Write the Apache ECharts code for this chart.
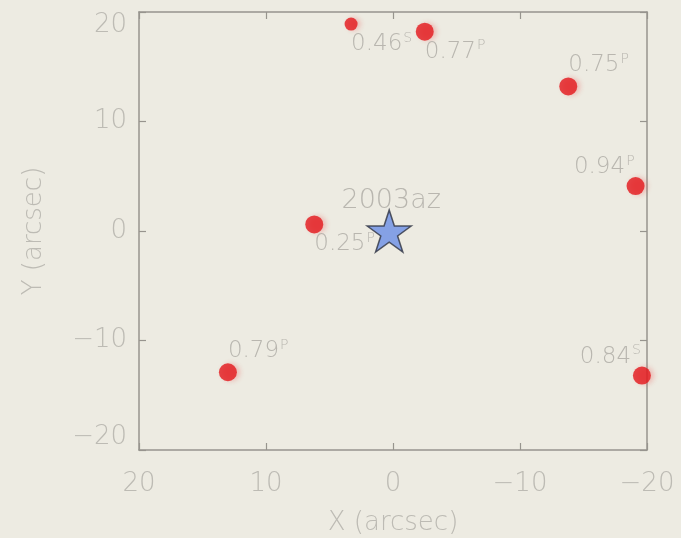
<!DOCTYPE html>
<html>
<head>
<meta charset="utf-8">
<style>
  html, body { margin: 0; padding: 0; background: #edebe2; }
  #chart { width: 681px; height: 538px; }
</style>
<script src="https://cdn.jsdelivr.net/npm/echarts@6/dist/echarts.min.js"></script>
</head>
<body>
<div id="chart"></div>
<script>
// Neighbouring galaxies around SN 2003az: offsets in arcsec, redshift and type tag
const galaxyZ     = ['0.46', '0.77', '0.75', '0.94', '0.25', '0.79', '0.84'];
const galaxyTag   = ['S', 'P', 'P', 'P', 'P', 'P', 'S'];
const galaxyX     = [3.3, -2.5, -13.8, -19.1, 6.2, 13.0, -19.6];
const galaxyY     = [18.9, 18.2, 13.2, 4.1, 0.6, -12.9, -13.2];
const galaxySmall = [true, false, false, false, false, false, false];

// Supernova position
const snName = '2003az';
const snX = [0.3];
const snY = [0.0];

// Axis ticks
const axisMin = -20, axisMax = 20, axisStep = 10;

// Where each redshift label sits relative to its dot
const labelSide = ['below', 'below', 'above', 'aboveLeft', 'below', 'above', 'aboveLeft'];

const FONT = '"DejaVu Sans", sans-serif';
const TICK_COLOR = '#bdbbb4';
const TEXT_COLOR = '#aba9a3';
const LINE_COLOR = '#97948e';

const sideStyle = {
  below:     { align: 'left',  offset: [0, 20] },
  above:     { align: 'left',  offset: [0, -21] },
  aboveLeft: { align: 'right', offset: [-1, -19] }
};

const minusFmt = v => (v < 0 ? '\u2212' + Math.abs(v) : String(v));

const galaxyData = galaxyZ.map((z, i) => {
  const s = sideStyle[labelSide[i]];
  return {
    value: [galaxyX[i], galaxyY[i]],
    symbolSize: galaxySmall[i] ? 13 : 18,
    label: {
      show: true,
      position: 'inside',
      align: s.align,
      verticalAlign: 'middle',
      offset: s.offset,
      formatter: '{v|' + z + '}{s|' + galaxyTag[i] + '}'
    }
  };
});

const starPath = 'path://M100 0 L122.45 69.1 L195.1 69.1 L136.3 111.8 L158.8 180.9 L100 138.2 L41.2 180.9 L63.7 111.8 L4.9 69.1 L77.55 69.1 Z';

const baseAxis = {
  type: 'value',
  min: axisMin,
  max: axisMax,
  interval: axisStep,
  splitLine: { show: false },
  axisLine: { show: true, onZero: false, lineStyle: { color: LINE_COLOR, width: 1.5 } },
  axisTick: { show: true, inside: true, length: 7, lineStyle: { color: LINE_COLOR, width: 1.2 } }
};

const chart = echarts.init(document.getElementById('chart'), null, { renderer: 'canvas' });
chart.setOption({
  backgroundColor: '#edebe2',
  animation: false,
  grid: { left: 139, right: 34, top: 12, bottom: 88, containLabel: false, outerBoundsMode: 'none' },
  xAxis: [
    Object.assign({}, baseAxis, {
      position: 'bottom',
      inverse: true,
      name: 'X (arcsec)',
      nameLocation: 'middle',
      nameGap: 60,
      nameTextStyle: { color: TICK_COLOR, fontSize: 26, fontFamily: FONT, fontWeight: 200 },
      axisLabel: { color: TICK_COLOR, fontSize: 26, fontFamily: FONT, fontWeight: 200, margin: 21, formatter: minusFmt }
    }),
    Object.assign({}, baseAxis, {
      position: 'top',
      inverse: true,
      axisLabel: { show: false }
    })
  ],
  yAxis: [
    Object.assign({}, baseAxis, {
      position: 'left',
      name: 'Y (arcsec)',
      nameLocation: 'middle',
      nameGap: 92,
      nameTextStyle: { color: TICK_COLOR, fontSize: 26, fontFamily: FONT, fontWeight: 200 },
      axisLabel: {
        color: TICK_COLOR, fontSize: 26, fontFamily: FONT, fontWeight: 200, margin: 12,
        formatter: minusFmt,
        verticalAlignMaxLabel: 'top',
        verticalAlignMinLabel: 'bottom'
      }
    }),
    Object.assign({}, baseAxis, {
      position: 'right',
      axisLabel: { show: false }
    })
  ],
  series: [
    {
      type: 'scatter',
      z: 2,
      clip: false,
      symbol: 'circle',
      itemStyle: {
        color: '#e3161b',
        shadowColor: 'rgba(235, 60, 60, 0.35)',
        shadowBlur: 5,
        shadowOffsetX: 3
      },
      label: {
        color: TEXT_COLOR,
        fontFamily: FONT,
        fontWeight: 200,
        rich: {
          v: { fontSize: 23, color: TEXT_COLOR, fontFamily: FONT, fontWeight: 200, lineHeight: 26 },
          s: { fontSize: 14, color: TEXT_COLOR, fontFamily: FONT, fontWeight: 200, verticalAlign: 'top', lineHeight: 22, padding: [0, 0, 0, 1] }
        }
      },
      data: galaxyData
    },
    {
      type: 'scatter',
      z: 3,
      clip: false,
      symbol: starPath,
      symbolSize: [44, 42],
      itemStyle: { color: '#6a8fe6', borderColor: '#2e3240', borderWidth: 1.5 },
      label: {
        show: true,
        position: 'inside',
        offset: [2, -30],
        color: TEXT_COLOR,
        fontSize: 27,
        fontFamily: FONT,
        fontWeight: 200,
        formatter: snName
      },
      data: snX.map((x, i) => [x, snY[i]])
    }
  ]
});
</script>
</body>
</html>
